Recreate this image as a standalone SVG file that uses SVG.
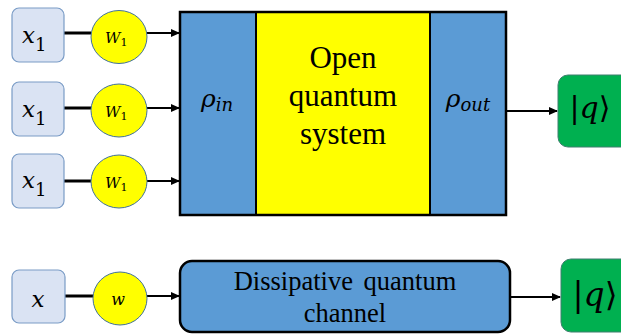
<svg xmlns="http://www.w3.org/2000/svg" width="621" height="335" viewBox="0 0 621 335">
<style>
.inbox{fill:#DAE3F3;stroke:#7A9CC6;stroke-width:1.2}
.wc{fill:#FFFF00;stroke:#41719C;stroke-width:1}
.blue{fill:#5B9BD5}
.green{fill:#00B050;stroke:#3F7F6F;stroke-width:1}
.math{font-family:'DejaVu Serif','Liberation Serif','Noto Serif',Tinos,FreeSerif,serif;font-style:italic;fill:#000}
.up{font-style:normal}
.tx{font-family:'Liberation Serif','Times New Roman',Tinos,'Noto Serif','DejaVu Serif',FreeSerif,serif;fill:#000;text-anchor:middle}
.thick{stroke:#000;stroke-width:3;fill:none}
.thin{stroke:#000;stroke-width:2;fill:none}
</style>
<defs>
<marker id="ah" markerWidth="10" markerHeight="10" refX="8" refY="5" orient="auto" markerUnits="userSpaceOnUse">
<path d="M0,1 L9,5 L0,9 Z" fill="#000"/>
</marker>
</defs>

<g id="connectors">
<line class="thick" x1="64" y1="33" x2="91" y2="33"/>
<line class="thin" x1="147" y1="33" x2="179" y2="33" marker-end="url(#ah)"/>
<line class="thick" x1="64" y1="108" x2="91" y2="108"/>
<line class="thin" x1="147" y1="108" x2="179" y2="108" marker-end="url(#ah)"/>
<line class="thick" x1="64" y1="181" x2="91" y2="181"/>
<line class="thin" x1="147" y1="181" x2="179" y2="181" marker-end="url(#ah)"/>
<line class="thin" x1="507" y1="111" x2="557" y2="111" marker-end="url(#ah)"/>
<line class="thick" x1="65" y1="296" x2="93" y2="296"/>
<line class="thin" x1="147" y1="296" x2="179" y2="296" marker-end="url(#ah)"/>
<line class="thin" x1="510" y1="297" x2="560" y2="297" marker-end="url(#ah)"/>
</g>

<g id="x1a">
<rect class="inbox" x="12" y="8" width="52" height="54" rx="7"/>
<text class="math" x="22" y="43" font-size="23">x<tspan class="up" font-size="18" dy="8">1</tspan></text>
</g>
<g id="x1b">
<rect class="inbox" x="12" y="82" width="52" height="54" rx="7"/>
<text class="math" x="22" y="117" font-size="23">x<tspan class="up" font-size="18" dy="8">1</tspan></text>
</g>
<g id="x1c">
<rect class="inbox" x="12" y="154" width="52" height="54" rx="7"/>
<text class="math" x="22" y="188" font-size="23">x<tspan class="up" font-size="18" dy="8">1</tspan></text>
</g>

<g id="w1a">
<ellipse class="wc" cx="119" cy="37" rx="28" ry="26.5"/>
<text class="math" x="105" y="43" font-size="15">W<tspan class="up" font-size="11" dy="3">1</tspan></text>
</g>
<g id="w1b">
<ellipse class="wc" cx="119" cy="110.5" rx="28" ry="26.5"/>
<text class="math" x="105" y="117" font-size="15">W<tspan class="up" font-size="11" dy="3">1</tspan></text>
</g>
<g id="w1c">
<ellipse class="wc" cx="119" cy="181.5" rx="28" ry="26.5"/>
<text class="math" x="105" y="188" font-size="15">W<tspan class="up" font-size="11" dy="3">1</tspan></text>
</g>

<g id="open-system">
<rect class="blue" x="180" y="12" width="76" height="203"/>
<rect x="256" y="12" width="174" height="203" fill="#FFFF00"/>
<rect class="blue" x="430" y="12" width="76" height="203"/>
<line x1="256" y1="12" x2="256" y2="215" stroke="#000" stroke-width="2"/>
<line x1="430" y1="12" x2="430" y2="215" stroke="#000" stroke-width="2"/>
<rect x="180" y="12" width="326" height="203" fill="none" stroke="#000" stroke-width="2.5"/>
<text class="math" x="217" y="107" font-size="25" text-anchor="middle">ρ<tspan font-size="18" dy="4">in</tspan></text>
<text class="math" x="468" y="107" font-size="25" text-anchor="middle">ρ<tspan font-size="18" dy="4">out</tspan></text>
<text class="tx" x="343" y="68" font-size="31">Open</text>
<text class="tx" x="343" y="106" font-size="31">quantum</text>
<text class="tx" x="343" y="144" font-size="31">system</text>
</g>

<g id="q-top">
<rect class="green" x="558" y="75" width="80" height="72" rx="10"/>
<text class="math" x="590" y="118" font-size="30" text-anchor="middle"><tspan class="up">|</tspan>q<tspan class="up">⟩</tspan></text>
</g>

<g id="x-bottom">
<rect class="inbox" x="12" y="270" width="53" height="53" rx="7"/>
<text class="math" x="38" y="307" font-size="23" text-anchor="middle">x</text>
</g>
<g id="w-bottom">
<ellipse class="wc" cx="120" cy="298.5" rx="27" ry="26.5"/>
<text class="math" x="118" y="305" font-size="16" text-anchor="middle">w</text>
</g>

<g id="channel">
<rect x="180" y="261" width="330" height="71" rx="12" fill="#5B9BD5" stroke="#000" stroke-width="2.5"/>
<text class="tx" x="345" y="290" font-size="26.5" word-spacing="4">Dissipative quantum</text>
<text class="tx" x="345" y="322" font-size="26.5">channel</text>
</g>

<g id="q-bottom">
<rect class="green" x="561" y="259" width="80" height="73" rx="10"/>
<text class="math" x="595" y="306" font-size="33" text-anchor="middle"><tspan class="up">|</tspan>q<tspan class="up">⟩</tspan></text>
</g>
</svg>
